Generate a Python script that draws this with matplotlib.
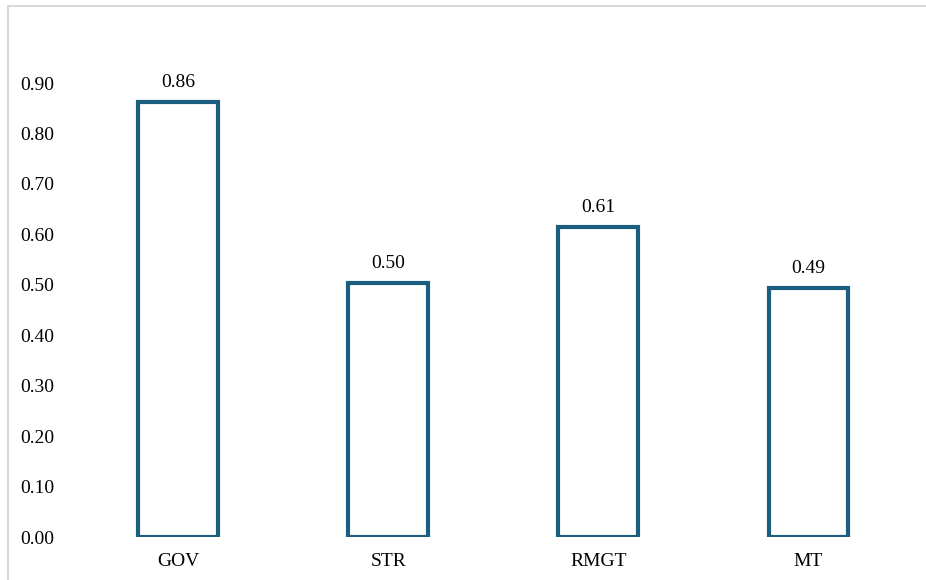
import matplotlib.pyplot as plt
from matplotlib.lines import Line2D

categories = ['GOV', 'STR', 'RMGT', 'MT']
values = [0.862, 0.504, 0.615, 0.494]
yticks = [0.0, 0.1, 0.2, 0.3, 0.4, 0.5, 0.6, 0.7, 0.8, 0.9]

plt.rcParams['font.family'] = ['Liberation Serif', 'DejaVu Serif']

fig = plt.figure(figsize=(9.26, 5.8), dpi=100)
ax = fig.add_axes([73 / 926, 43 / 580, 840.5 / 926, 504.4 / 580])

x = range(len(categories))
ax.bar(x, values, width=0.38, facecolor='white', edgecolor='#1B5E80', linewidth=3)
for i, v in enumerate(values):
    ax.annotate(f'{v:.2f}', (i, v), xytext=(0, 8), textcoords='offset points',
                ha='center', va='bottom', fontsize=14)

ax.set_xlim(-0.5, len(categories) - 0.5)
ax.set_ylim(0, 1.0)
ax.set_xticks(list(x))
ax.set_xticklabels(categories, fontsize=14)
ax.set_yticks(yticks)
ax.set_yticklabels([f'{t:.2f}' for t in yticks], fontsize=14)
ax.tick_params(axis='x', length=0, pad=11.5)
ax.tick_params(axis='y', length=0, pad=13.4)
for s in ax.spines.values():
    s.set_visible(False)

# outer chart frame (top and left edges visible)
fig.add_artist(Line2D([8 / 926, 8 / 926], [0, 1 - 6 / 580], color='#D9D9D9', lw=1.5))
fig.add_artist(Line2D([8 / 926, 1], [1 - 6 / 580, 1 - 6 / 580], color='#D9D9D9', lw=1.5))

fig.savefig('out.png', dpi=100)
